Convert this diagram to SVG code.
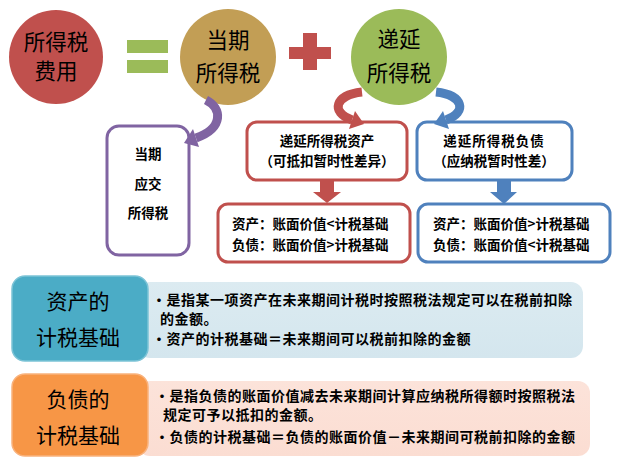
<svg xmlns="http://www.w3.org/2000/svg" width="618" height="469" viewBox="0 0 618 469">
<style>
  text { font-family: "Noto Sans CJK SC", "Noto Sans", sans-serif; fill: #000; }
  .big { font-size: 21.5px; text-anchor: middle; }
  .lbl { font-size: 21px; text-anchor: middle; }
  .sm { font-size: 13.5px; font-weight: bold; }
  .smc { font-size: 13.5px; font-weight: bold; text-anchor: middle; }
  .bl { font-size: 14px; font-weight: bold; letter-spacing: 0.5px; }
  .box { fill: #fff; stroke-width: 3; }
</style>
<defs>
  <linearGradient id="gBlue" x1="0" y1="0" x2="0" y2="1">
    <stop offset="0" stop-color="#dcebf1"/>
    <stop offset="1" stop-color="#d4e6ee"/>
  </linearGradient>
  <linearGradient id="gPink" x1="0" y1="0" x2="0" y2="1">
    <stop offset="0" stop-color="#fce3da"/>
    <stop offset="1" stop-color="#fbddd2"/>
  </linearGradient>
</defs>

<g id="node-expense">
  <circle cx="56" cy="57" r="47" fill="#c0504d"/>
  <text class="big" x="56" y="50">所得税</text>
  <text class="big" x="56" y="79">费用</text>
</g>
<g id="equals">
  <rect x="127" y="40" width="41" height="13" fill="#9bbb59"/>
  <rect x="127" y="60" width="41" height="13" fill="#9bbb59"/>
</g>
<g id="node-current">
  <circle cx="228" cy="57" r="48" fill="#c29e55"/>
  <text class="big" x="228" y="48">当期</text>
  <text class="big" x="228" y="81">所得税</text>
</g>
<g id="plus">
  <rect x="303" y="33" width="14" height="37" fill="#c0504d"/>
  <rect x="289" y="47" width="42" height="12" fill="#c0504d"/>
</g>
<g id="node-deferred">
  <circle cx="399" cy="57" r="48" fill="#9bbb59"/>
  <text class="big" x="399" y="47">递延</text>
  <text class="big" x="399" y="81">所得税</text>
</g>

<g id="node-payable">
  <rect class="box" x="107" y="126" width="82" height="129" rx="12" stroke="#8064a2"/>
  <text class="smc" x="148" y="159">当期</text>
  <text class="smc" x="148" y="189">应交</text>
  <text class="smc" x="148" y="218">所得税</text>
</g>
<g id="node-dta">
  <rect class="box" x="247" y="122" width="160" height="58" rx="10" stroke="#c0504d"/>
  <text class="smc" x="327" y="146">递延所得税资产</text>
  <text class="smc" x="327" y="166">（可抵扣暂时性差异）</text>
</g>
<g id="node-dta-rule">
  <rect class="box" x="218" y="204" width="192" height="58" rx="10" stroke="#c0504d"/>
  <text class="sm" x="232" y="229">资产：账面价值&lt;计税基础</text>
  <text class="sm" x="232" y="250">负债：账面价值&gt;计税基础</text>
</g>
<g id="node-dtl">
  <rect class="box" x="417" y="122" width="155" height="58" rx="10" stroke="#4f81bd"/>
  <text class="smc" x="494" y="146" letter-spacing="1">递延所得税负债</text>
  <text class="smc" x="494" y="166">（应纳税暂时性差）</text>
</g>
<g id="node-dtl-rule">
  <rect class="box" x="418" y="204" width="192" height="58" rx="10" stroke="#4f81bd"/>
  <text class="sm" x="433" y="229">资产：账面价值&gt;计税基础</text>
  <text class="sm" x="433" y="250">负债：账面价值&lt;计税基础</text>
</g>

<g id="connectors">
  <path d="M206 100 C222 108 224 128 196 138" fill="none" stroke="#8064a2" stroke-width="9"/>
  <polygon points="184,143 199,147 193,129" fill="#8064a2"/>
  <path d="M362 92 C335 95 330 112 352 120" fill="none" stroke="#c0504d" stroke-width="9"/>
  <polygon points="364,124 349,129 355,111" fill="#c0504d"/>
  <path d="M436 92 C463 95 468 112 446 120" fill="none" stroke="#4f81bd" stroke-width="9"/>
  <polygon points="434,124 449,129 443,111" fill="#4f81bd"/>
  <polygon points="320,181 334,181 334,192 341,192 327,203 313,192 320,192" fill="#c0504d"/>
  <polygon points="497,181 511,181 511,192 517,192 504,204 490,192 497,192" fill="#4f81bd"/>
</g>

<g id="node-asset-base">
  <rect x="138" y="282" width="445" height="76" rx="12" fill="url(#gBlue)"/>
  <rect x="12" y="276" width="136" height="85" rx="13" fill="#4bacc6" stroke="#7cc3d6" stroke-width="1.5"/>
  <text class="lbl" x="78" y="309">资产的</text>
  <text class="lbl" x="78" y="345">计税基础</text>
  <text class="bl" x="152" y="305">•是指某一项资产在未来期间计税时按照税法规定可以在税前扣除</text>
  <text class="bl" x="160" y="324">的金额。</text>
  <text class="bl" x="152" y="344">•资产的计税基础＝未来期间可以税前扣除的金额</text>
</g>
<g id="node-liability-base">
  <rect x="138" y="381" width="452" height="75" rx="12" fill="url(#gPink)"/>
  <rect x="12" y="374" width="136" height="82" rx="13" fill="#f79646" stroke="#f9b27c" stroke-width="1.5"/>
  <text class="lbl" x="78" y="407">负债的</text>
  <text class="lbl" x="78" y="443">计税基础</text>
  <text class="bl" x="155" y="401">•是指负债的账面价值减去未来期间计算应纳税所得额时按照税法</text>
  <text class="bl" x="163" y="420">规定可予以抵扣的金额。</text>
  <text class="bl" x="155" y="442">•负债的计税基础＝负债的账面价值－未来期间可税前扣除的金额</text>
</g>
</svg>
